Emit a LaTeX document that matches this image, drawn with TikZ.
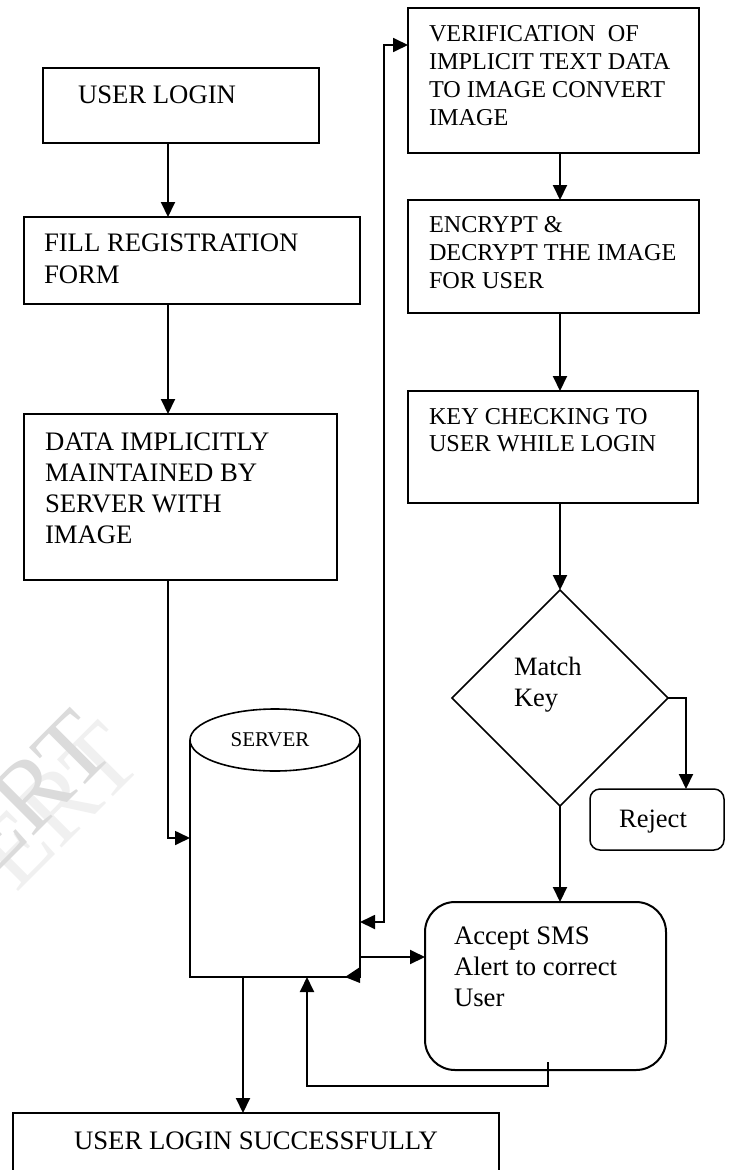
\documentclass[tikz,border=0pt]{standalone}
\usepackage{fontspec}
\setmainfont{Liberation Serif}
\usetikzlibrary{shapes.geometric,arrows.meta,calc}
\begin{document}
\begin{tikzpicture}[x=1pt,y=-1pt,
  box/.style={draw, line width=2pt, inner sep=0pt, outer sep=0pt, anchor=north west},
  thinbox/.style={draw, line width=1.5pt, inner sep=0pt, outer sep=0pt, anchor=north west},
  lt/.style={inner sep=0pt, outer sep=0pt, align=left, anchor=north west},
  arr/.style={line width=2pt, -{Triangle[length=15pt,width=14pt]}},
  arrboth/.style={line width=1.8pt, {Triangle[length=15pt,width=14pt]}-{Triangle[length=15pt,width=14pt]}}]
\clip (0,0) rectangle (732,1170);
\fill[white] (0,0) rectangle (732,1170);
% watermark
\node[rotate=45, text=gray!12, font=\fontsize{100}{100}\selectfont] (wm2) at (58,806) {ERT};
\node[rotate=45, text=gray!28, font=\fontsize{100}{100}\selectfont] (wm) at (30,794) {ERT};
% coordinates
\coordinate (xa) at (168,0);
\coordinate (xb) at (384,0);
\coordinate (xc) at (560,0);
\coordinate (xd) at (243,0);
\coordinate (xf) at (548,0);
\coordinate (xg) at (307,0);
\coordinate (xr) at (686,0);
\coordinate (y45) at (0,45);
\coordinate (y838) at (0,838);
\coordinate (y922) at (0,922);
\coordinate (y957) at (0,957);
\coordinate (y1086) at (0,1086);
% left column
\node[box, minimum width=276pt, minimum height=75pt] (ul) at (43,68) {};
\node[lt, font=\fontsize{26.7}{32}\selectfont] (ult) at (78,86.3) {USER LOGIN};
\node[box, minimum width=336pt, minimum height=87pt] (fill) at (24,217) {};
\node[lt, font=\fontsize{26.7}{32}\selectfont] (fillt) at (44,234.3) {FILL REGISTRATION\\FORM};
\node[box, minimum width=313pt, minimum height=166pt] (data) at (24,414) {};
\node[lt, font=\fontsize{26.7}{30.7}\selectfont] (datat) at (45,433.3) {DATA IMPLICITLY\\MAINTAINED BY\\SERVER WITH\\IMAGE};
% right column
\node[box, minimum width=291pt, minimum height=145pt] (verif) at (408,8) {};
\node[lt, font=\fontsize{24.2}{28}\selectfont] (verift) at (429,25.1) {VERIFICATION\ \ OF\\IMPLICIT TEXT DATA\\TO IMAGE CONVERT\\IMAGE};
\node[box, minimum width=291pt, minimum height=113pt] (enc) at (408,200) {};
\node[lt, font=\fontsize{24.2}{28}\selectfont] (enct) at (429,216.1) {ENCRYPT \&\\DECRYPT THE IMAGE\\FOR USER};
\node[box, minimum width=290pt, minimum height=112pt] (key) at (408,391) {};
\node[lt, font=\fontsize{24.2}{27}\selectfont] (keyt) at (429,408.1) {KEY CHECKING TO\\USER WHILE LOGIN};
\node[draw, diamond, line width=1.5pt, minimum width=216pt, minimum height=216pt, inner sep=0pt, outer sep=0pt] (dia) at (560,698) {};
\node[lt, font=\fontsize{26.5}{31}\selectfont] (diat) at (514,657.4) {Match\\Key};
\node[thinbox, rounded corners=10pt, minimum width=134pt, minimum height=61pt] (rej) at (590,789) {};
\node[anchor=base, inner sep=0pt, font=\fontsize{26.5}{31}\selectfont] (rejt) at (653,827) {Reject};
\node[box, rounded corners=30pt, minimum width=241pt, minimum height=168pt] (acc) at (425,902) {};
\node[lt, font=\fontsize{26.7}{31}\selectfont] (acct) at (454,927.3) {Accept SMS\\Alert to correct\\User};
% server cylinder
\node[inner sep=0pt, outer sep=0pt, minimum width=170pt, minimum height=237pt, anchor=north west] (srv) at (190,740) {};
\draw[line width=1.6pt] (srv.north west) -- (srv.south west) -- (srv.south east) -- (srv.north east);
\draw[line width=1.6pt] (srv.north) ellipse [x radius=85pt, y radius=31pt];
\node[anchor=base, inner sep=0pt, font=\fontsize{21}{25}\selectfont] (srvt) at (270,746) {SERVER};
% final box
\node[box, minimum width=486pt, minimum height=100pt] (fin) at (13,1113) {};
\node[anchor=base, inner sep=0pt, font=\fontsize{26.7}{32}\selectfont] (fint) at (256,1149) {USER LOGIN SUCCESSFULLY};
% connectors
\draw[arr] (ul.south -| xa) -- (fill.north -| xa);
\draw[arr] (fill.south -| xa) -- (data.north -| xa);
\draw[arr, line width=1.7pt] (data.south -| xa) |- (srv.west |- y838);
\draw[arrboth] (srv.east |- y922) -| (xb |- y45) -- (verif.west |- y45);
\draw[arr] (verif.south -| xc) -- (enc.north -| xc);
\draw[arr] (enc.south -| xc) -- (key.north -| xc);
\draw[arr] (key.south -| xc) -- (dia.north);
\draw[arr] (dia.south) -- (acc.north -| dia.south);
\draw[arr] (dia.east) -| (rej.north -| xr);
\draw[arr] (srv.east |- y957) -- (acc.west |- y957);
\draw[arr] ($(acc.south -| xf)+(0,-8)$) |- (xg |- y1086) -- (srv.south -| xg);
\draw[arr] (srv.south -| xd) -- (fin.north -| xd);
\fill ($(srv.south east)+(0,-10)$) -- ($(srv.south east)+(0,6)$) -- ($(srv.south east)+(-15,0)$) -- cycle;
\end{tikzpicture}
\end{document}
